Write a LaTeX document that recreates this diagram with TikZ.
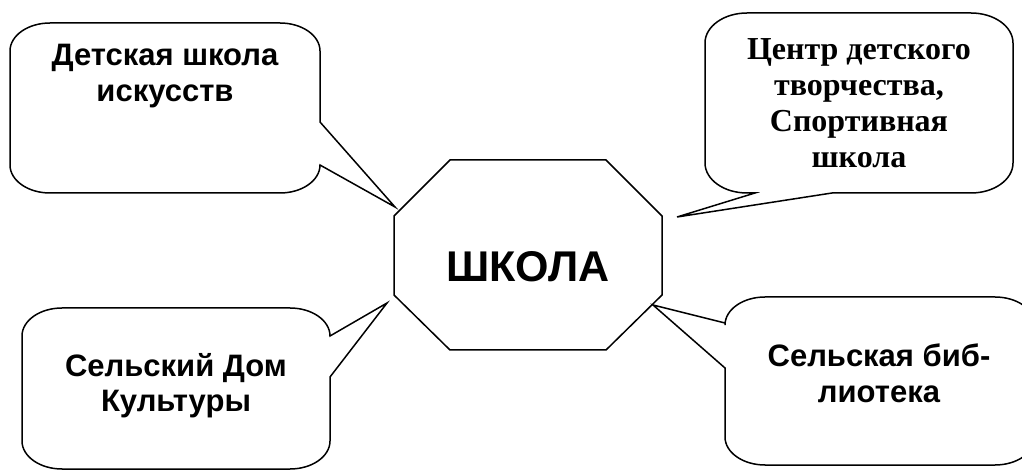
\documentclass[tikz,border=0pt]{standalone}
\usepackage{fontspec}
\setmainfont{Liberation Sans}
\newfontfamily\timesf{Liberation Serif}
\begin{document}
\begin{tikzpicture}[x=1pt,y=1pt]
\tikzset{
  bubble/.style={draw=black, line width=1.5pt, fill=white, line join=miter},
  lbl/.style={align=center, font=\bfseries\fontsize{31}{36}\selectfont, anchor=base, inner sep=0pt},
  tlbl/.style={align=center, font=\timesf\bfseries\fontsize{32}{36}\selectfont, anchor=base, inner sep=0pt}
}
\useasboundingbox (0,0) rectangle (1022,471);
% octagon
\draw[bubble] (450,311) -- (606,311) -- (662,255) -- (662,176) -- (606,121) -- (450,121) -- (394,176) -- (394,255) -- cycle;
\node[font=\bfseries\fontsize{43}{50}\selectfont, inner sep=0pt] (school) at (528,204) {ШКОЛА};
% tips
\coordinate (tlTip) at (395,264);
\coordinate (trTip) at (677,254);
\coordinate (blTip) at (387,168);
\coordinate (brTip) at (653,166);
% top-left callout
\draw[bubble] (50,448) -- (280,448) arc[start angle=90,end angle=0,x radius=40,y radius=28]
  -- (320,349) -- (tlTip) -- (320,306) arc[start angle=0,end angle=-90,x radius=40,y radius=28]
  -- (50,278) arc[start angle=270,end angle=180,x radius=40,y radius=28]
  -- (10,420) arc[start angle=180,end angle=90,x radius=40,y radius=28] -- cycle;
% top-right callout
\draw[bubble] (747,458) -- (971,458) arc[start angle=90,end angle=0,x radius=42,y radius=30]
  -- (1013,308) arc[start angle=0,end angle=-90,x radius=42,y radius=30]
  -- (832,278) -- (trTip) -- (755,278) -- (747,278) arc[start angle=270,end angle=180,x radius=42,y radius=30]
  -- (705,428) arc[start angle=180,end angle=90,x radius=42,y radius=30] -- cycle;
% bottom-left callout
\draw[bubble] (62,163) -- (290,163) arc[start angle=90,end angle=0,x radius=40,y radius=28]
  -- (blTip) -- (330,94) -- (330,30) arc[start angle=0,end angle=-90,x radius=40,y radius=28]
  -- (62,2) arc[start angle=270,end angle=180,x radius=40,y radius=28]
  -- (22,135) arc[start angle=180,end angle=90,x radius=40,y radius=28] -- cycle;
% bottom-right callout
\draw[bubble] (765,174) -- (995,174) arc[start angle=90,end angle=0,x radius=40,y radius=28]
  -- (1035,34) arc[start angle=0,end angle=-90,x radius=40,y radius=28]
  -- (765,6) arc[start angle=270,end angle=180,x radius=40,y radius=28]
  -- (725,103) -- (brTip) -- (725,148) -- (725,146) arc[start angle=180,end angle=90,x radius=40,y radius=28] -- cycle;
% labels
\node[lbl] (t1) at (165,369) {Детская школа\\искусств};
\node[tlbl] (t2) at (859,303) {Центр детского\\творчества,\\Спортивная\\школа};
\node[lbl] (t3) at (176,59) {Сельский Дом\\Культуры};
\node[lbl] (t4) at (879,68) {Сельская биб-\\лиотека};
\end{tikzpicture}
\end{document}
